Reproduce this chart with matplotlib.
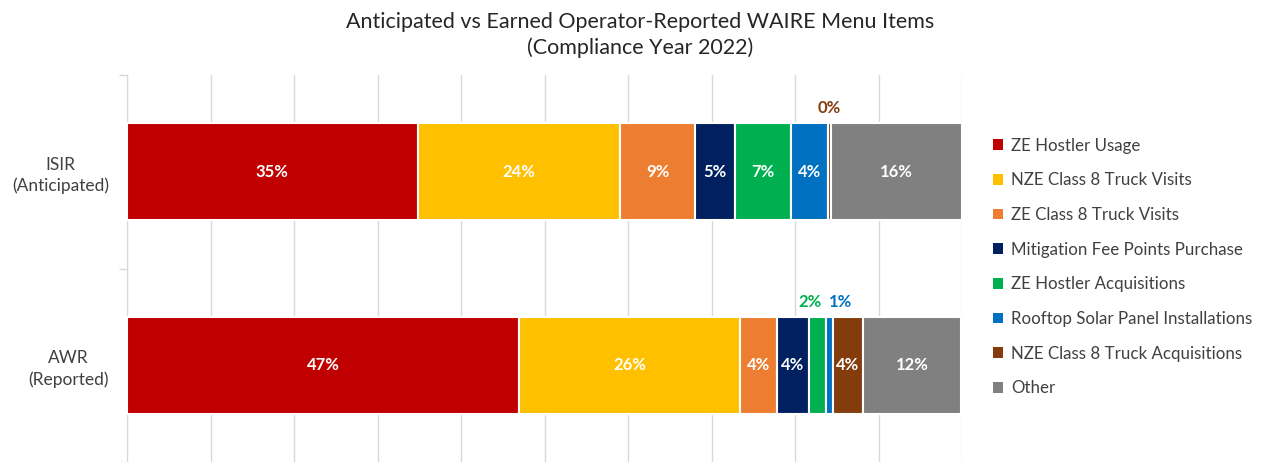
import matplotlib
matplotlib.use('Agg')
import matplotlib.pyplot as plt
from matplotlib.patches import Patch
import numpy as np

plt.rcParams['font.family'] = ['Lato', 'DejaVu Sans']

categories = ['ISIR\n(Anticipated)', 'AWR\n(Reported)']
series = ['ZE Hostler Usage', 'NZE Class 8 Truck Visits', 'ZE Class 8 Truck Visits',
          'Mitigation Fee Points Purchase', 'ZE Hostler Acquisitions',
          'Rooftop Solar Panel Installations', 'NZE Class 8 Truck Acquisitions', 'Other']
colors = ['#c00000', '#ffc000', '#ed7d31', '#002060', '#00b050', '#0070c0', '#843c0c', '#808080']

# percent of points, per series: [ISIR, AWR]
isir = [34.8, 24.3, 8.9, 4.8, 6.7, 4.4, 0.4, 15.7]
awr = [47.0, 26.4, 4.4, 3.9, 2.0, 0.8, 3.6, 11.8]

# small segments get their label above the bar (pixel nudge in x)
outside_shift = {(0, 6): 0, (1, 4): -8, (1, 5): 11}

fig = plt.figure(figsize=(12.68, 4.62), dpi=100)
ax = fig.add_axes([127/1268, 0, 835/1268, 1 - 75/462])

y = np.arange(len(categories))
data = [isir, awr]
left = np.zeros(len(categories))
for i, name in enumerate(series):
    vals = np.array([data[0][i], data[1][i]])
    ax.barh(y, vals, left=left, height=0.5, color=colors[i],
            edgecolor='white', linewidth=1.5, zorder=3)
    for j in range(len(categories)):
        cx = left[j] + vals[j] / 2
        txt = '%d%%' % round(vals[j])
        if (j, i) in outside_shift:
            ax.annotate(txt, (cx, y[j] - 0.25), xytext=(outside_shift[(j, i)], 15),
                        textcoords='offset pixels', ha='center', va='center',
                        color=colors[i], fontsize=12, fontweight='bold', zorder=4)
        else:
            ax.text(cx, y[j], txt, ha='center', va='center', color='white',
                    fontsize=12, fontweight='bold', zorder=4)
    left += vals

ax.set_xlim(0, 100)
ax.set_ylim(1.5, -0.5)
ax.set_xticks(np.arange(0, 101, 10))
ax.tick_params(axis='x', length=0, labelbottom=False)
ax.grid(axis='x', color='#d9d9d9', linewidth=1, zorder=0)
ax.set_yticks(y)
ax.set_yticklabels(categories, fontsize=12.5, color='#404040', linespacing=1.35)
for lab in ax.get_yticklabels():
    lab.set_multialignment('center')
ax.tick_params(axis='y', which='major', length=0, pad=13)
ax.set_yticks([-0.5, 0.5, 1.5], minor=True)
ax.tick_params(axis='y', which='minor', length=6, color='#d9d9d9', width=1)
for s in ['top', 'right', 'bottom']:
    ax.spines[s].set_visible(False)
ax.spines['left'].set_color('#d9d9d9')

fig.text(640/1268, 1 - 35/462,
         'Anticipated vs Earned Operator-Reported WAIRE Menu Items\n(Compliance Year 2022)',
         ha='center', va='center', fontsize=15.5, color='#262626', linespacing=1.3)

handles = [Patch(facecolor=c, edgecolor='none') for c in colors]
fig.legend(handles, series, loc='center left', bbox_to_anchor=(978/1268, 1 - 267/462),
           frameon=False, fontsize=12.2, handlelength=0.6, handleheight=0.6,
           handletextpad=0.45, labelspacing=1.1, labelcolor='#404040')

fig.savefig('out.png', dpi=100)
